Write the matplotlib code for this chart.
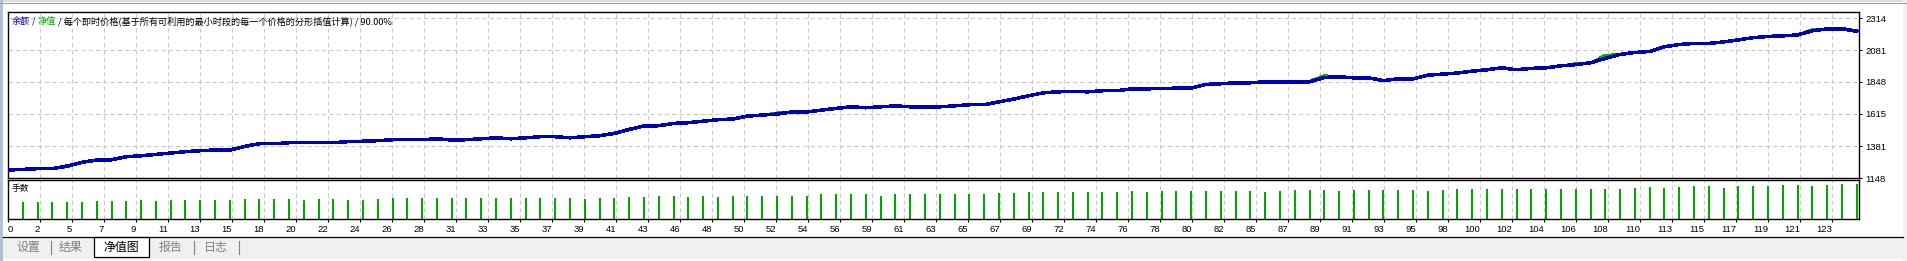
import matplotlib
matplotlib.use("Agg")
import matplotlib.pyplot as plt
import numpy as np
from matplotlib.patches import Rectangle
from matplotlib.lines import Line2D

W, H = 1908, 261

# balance after each trade (trade 0 = start)
balance = [1206, 1211, 1216, 1216, 1235, 1262, 1279, 1281, 1303, 1310,
           1320, 1330, 1340, 1347, 1352, 1352, 1378, 1398, 1398, 1405,
           1405, 1405, 1405, 1413, 1416, 1420, 1427, 1427, 1427, 1434,
           1425, 1427, 1434, 1441, 1434, 1441, 1449, 1449, 1441, 1449,
           1456, 1473, 1502, 1527, 1529, 1546, 1551, 1562, 1573, 1578,
           1599, 1607, 1614, 1629, 1629, 1643, 1655, 1667, 1660, 1667,
           1674, 1667, 1667, 1667, 1674, 1682, 1682, 1703, 1723, 1747,
           1769, 1776, 1780, 1776, 1784, 1784, 1798, 1798, 1800, 1803,
           1803, 1830, 1835, 1842, 1842, 1849, 1849, 1849, 1849, 1881,
           1886, 1878, 1878, 1858, 1871, 1871, 1898, 1905, 1913, 1927,
           1937, 1951, 1937, 1947, 1951, 1966, 1974, 1988, 2020, 2049,
           2063, 2070, 2105, 2121, 2129, 2129, 2140, 2155, 2171, 2180,
           2184, 2191, 2221, 2235, 2236, 2218]

# equity (mostly identical to balance)
equity = [1206, 1211, 1216, 1216, 1228, 1262, 1279, 1281, 1303, 1310,
          1324, 1330, 1340, 1347, 1352, 1352, 1378, 1398, 1398, 1405,
          1405, 1405, 1405, 1416, 1416, 1420, 1427, 1427, 1427, 1434,
          1425, 1427, 1434, 1441, 1434, 1441, 1449, 1449, 1441, 1449,
          1456, 1473, 1502, 1527, 1535, 1540, 1551, 1565, 1570, 1578,
          1599, 1607, 1624, 1633, 1629, 1643, 1655, 1667, 1660, 1667,
          1674, 1667, 1667, 1667, 1674, 1682, 1682, 1703, 1723, 1747,
          1769, 1776, 1780, 1776, 1784, 1784, 1798, 1798, 1795, 1803,
          1803, 1830, 1835, 1842, 1842, 1849, 1849, 1849, 1855, 1896,
          1886, 1878, 1878, 1858, 1871, 1871, 1898, 1905, 1913, 1927,
          1937, 1951, 1937, 1947, 1951, 1966, 1984, 1988, 2045, 2049,
          2063, 2070, 2105, 2121, 2129, 2129, 2140, 2155, 2171, 2180,
          2184, 2191, 2232, 2235, 2236, 2218]

# lots per trade (trades 1..125)
lots = ([0.17] * 5 + [0.18] * 3 + [0.19, 0.18] + [0.19] * 5 + [0.20] * 4 +
        [0.19, 0.20, 0.20, 0.19, 0.19, 0.20] + [0.21] * 13 + [0.20, 0.21, 0.21, 0.22] +
        [0.22, 0.23, 0.23, 0.22, 0.23, 0.22] + [0.23] * 6 + [0.24] * 4 + [0.23] +
        [0.24] * 7 + [0.25, 0.25] + [0.26] * 7 + [0.27, 0.26] + [0.27] * 7 +
        [0.26, 0.27, 0.28, 0.28, 0.28, 0.27, 0.28, 0.28, 0.28, 0.28, 0.28, 0.27, 0.28] +
        [0.29] * 12 + [0.30, 0.31, 0.30, 0.31, 0.32, 0.32, 0.30, 0.32, 0.32, 0.32,
                       0.33, 0.33, 0.32, 0.33, 0.34, 0.34])

y_ticks = [1148, 1381, 1615, 1848, 2081, 2314]
x_labels = ["0", "2", "5", "7", "9", "11", "13", "15", "18", "20", "22", "24", "26",
            "28", "31", "33", "35", "37", "39", "41", "43", "46", "48", "50", "52",
            "54", "56", "59", "61", "63", "65", "67", "69", "72", "74", "76", "78",
            "80", "82", "85", "87", "89", "91", "93", "95", "98", "100", "102", "104",
            "106", "108", "110", "113", "115", "117", "119", "121", "123"]
tabs = ["设置", "结果", "净值图", "报告", "日志"]

BLUE = "#0000B4"
GREEN = "#00B000"
GRID = "#C8C8C8"
NUM_FONT = "Liberation Sans"
CJK = ["Noto Sans CJK SC", "DejaVu Sans"]

fig = plt.figure(figsize=(W / 100, H / 100), dpi=100)
fig.patch.set_facecolor("white")


def rect(x0, y0, w, h):
    return [x0 / W, 1 - (y0 + h) / H, w / W, h / H]


px_per_trade = 14.79
grid_step = 32 / px_per_trade
x_pos = np.arange(len(x_labels)) * grid_step
x_max = 1851 / px_per_trade
trades = np.arange(len(balance))

# ---- main balance/equity panel
ax = fig.add_axes(rect(8, 12, 1851, 166))
ax.plot(trades, equity, color=GREEN, lw=1.0, zorder=3, antialiased=False)
ax.plot(trades, balance, color=BLUE, lw=1.8, zorder=4, antialiased=False)
ax.set_xlim(0, x_max)
ax.set_ylim(1148, 2358)
ax.set_xticks(x_pos)
ax.set_yticks(y_ticks)
ax.set_yticklabels([str(v) for v in y_ticks], fontsize=6.8, family=NUM_FONT)
ax.yaxis.tick_right()
ax.tick_params(axis="y", length=2.5, width=0.8, pad=2, direction="out")
ax.tick_params(axis="x", length=0, labelbottom=False)
ax.grid(True, ls=(0, (4, 3)), color=GRID, lw=0.75)
for s in ax.spines.values():
    s.set_linewidth(1.0)

# ---- volume panel
vax = fig.add_axes(rect(8, 180, 1851, 39))
vax.vlines(np.arange(1, len(lots) + 1), 0, lots, color="#00A800", lw=1.1,
           antialiased=False)
vax.set_xlim(0, x_max)
vax.set_ylim(0, 0.382)
vax.set_yticks([])
vax.set_xticks(x_pos)
vax.set_xticklabels(x_labels, fontsize=6.8, family=NUM_FONT)
for i, lab in enumerate(vax.get_xticklabels()):
    lab.set_ha("left" if i == 0 else "right")
vax.tick_params(axis="x", length=2.5, width=0.8, pad=2, direction="out")
vax.grid(True, axis="x", ls=(0, (4, 3)), color=GRID, lw=0.75)
for s in vax.spines.values():
    s.set_linewidth(1.0)
vax.text(4 / 1851, 0.78, "手数", transform=vax.transAxes, fontsize=6.3,
         family=CJK, va="center", ha="left")

# ---- title line with coloured parts
fig.canvas.draw()
renderer = fig.canvas.get_renderer()
parts = [("余额", BLUE), (" / ", "black"), ("净值", GREEN),
         (" / 每个即时价格(基于所有可利用的最小时段的每一个价格的分形插值计算) / 90.00%", "black")]
x_cur = 12
for txt, col in parts:
    t = fig.text(x_cur / W, 1 - 21 / H, txt, color=col, fontsize=6.6, family=CJK,
                 va="center", ha="left")
    bb = t.get_window_extent(renderer)
    x_cur += bb.width

# ---- window frame and tab bar
fig.patches.append(Rectangle((0, 1 - 2 / H), 1, 2 / H, transform=fig.transFigure,
                             facecolor="#DCDCDC", edgecolor="none"))
fig.lines.append(Line2D([0, 1], [1 - 2.5 / H, 1 - 2.5 / H], transform=fig.transFigure,
                        color="#A0A0A0", lw=0.8))
fig.patches.append(Rectangle((0, 0), 3 / W, 1, transform=fig.transFigure,
                             facecolor="#AFC1D6", edgecolor="none"))
fig.patches.append(Rectangle((1903 / W, 0), 5 / W, 1, transform=fig.transFigure,
                             facecolor="#F0F0F0", edgecolor="none"))
fig.patches.append(Rectangle((3 / W, 2 / H), 1900 / W, 22 / H, transform=fig.transFigure,
                             facecolor="#F0F0F0", edgecolor="none"))
fig.lines.append(Line2D([3 / W, 1903 / W], [1 - 236.5 / H, 1 - 236.5 / H],
                        transform=fig.transFigure, color="black", lw=0.9))
# active tab
fig.patches.append(Rectangle((94 / W, 1 - 257 / H), 55 / W, 20.5 / H,
                             transform=fig.transFigure, facecolor="white",
                             edgecolor="black", lw=0.9))
tab_x = [28, 71, 121, 171, 216]
for name, tx in zip(tabs, tab_x):
    col = "black" if name == "净值图" else "#808080"
    fig.text(tx / W, 1 - 247 / H, name, color=col, fontsize=8.6, family=CJK,
             ha="center", va="center")
for sx in [51, 194, 239]:
    fig.lines.append(Line2D([sx / W, sx / W], [1 - 241 / H, 1 - 254 / H],
                            transform=fig.transFigure, color="#808080", lw=0.8))

fig.savefig("out.png", dpi=100)
